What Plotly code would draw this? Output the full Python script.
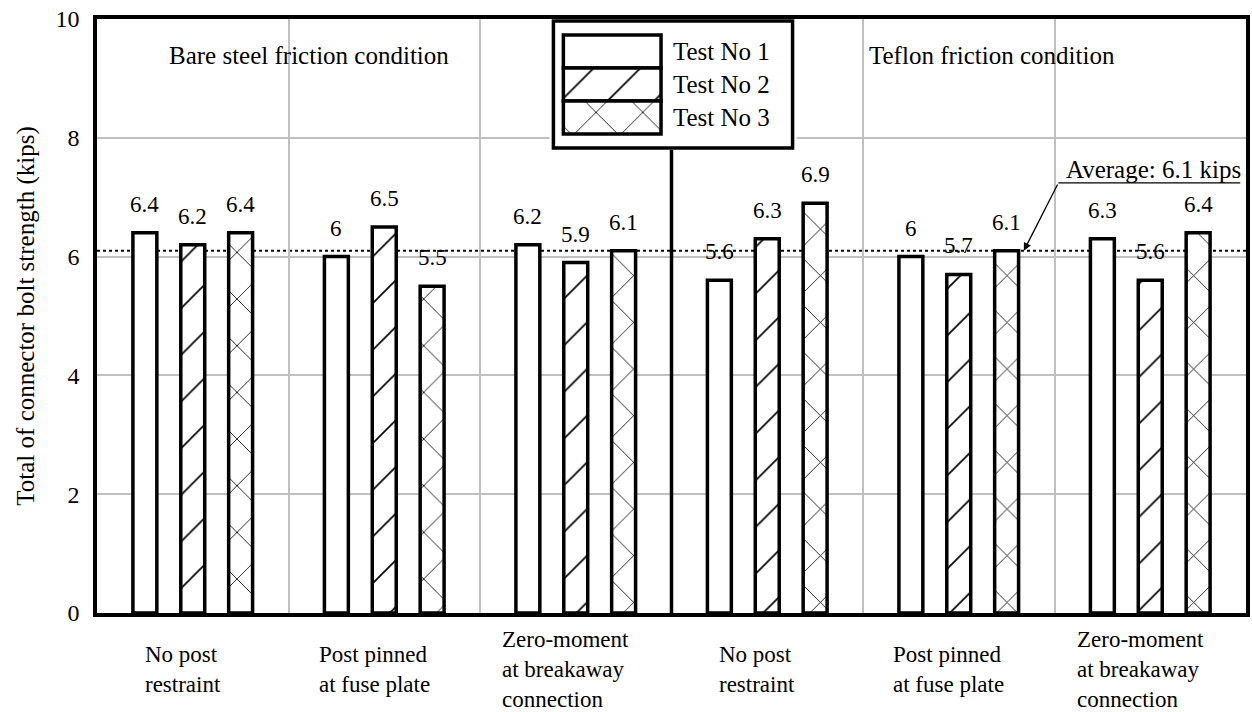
import plotly.graph_objects as go

# ---- data -----------------------------------------------------------------
GROUP_LABELS = [
    "No post<br>restraint",
    "Post pinned<br>at fuse plate",
    "Zero-moment<br>at breakaway<br>connection",
    "No post<br>restraint",
    "Post pinned<br>at fuse plate",
    "Zero-moment<br>at breakaway<br>connection",
]
TEST_NAMES = ["Test No 1", "Test No 2", "Test No 3"]
TEST1 = [6.4, 6.0, 6.2, 5.6, 6.0, 6.3]
TEST2 = [6.2, 6.5, 5.9, 6.3, 5.7, 5.6]
TEST3 = [6.4, 5.5, 6.1, 6.9, 6.1, 6.4]
AVERAGE = 6.1
Y_TICKS = [0, 2, 4, 6, 8, 10]
CONDITIONS = ["Bare steel friction condition", "Teflon friction condition"]

# ---- styling ----------------------------------------------------------------
FONT = "'Liberation Serif', 'Times New Roman', Times, serif"
GRID = "#c0c0c0"
PATTERNS = ["", "/", "x"]
OFFSETS = [-0.25, 0.0, 0.25]
BAR_WIDTH = 0.125
EDGE = 3.5
PAT = dict(size=33, solidity=0.05, fgcolor="black", bgcolor="white",
           fgopacity=1)

series = [TEST1, TEST2, TEST3]
n_groups = len(GROUP_LABELS)

fig = go.Figure()

# divider between the two friction conditions
fig.add_trace(go.Scatter(
    x=[(n_groups - 1) / 2, (n_groups - 1) / 2], y=[Y_TICKS[0], Y_TICKS[-1]],
    mode="lines", line=dict(color="black", width=EDGE),
    hoverinfo="skip", showlegend=False,
))

for name, vals, pat, off in zip(TEST_NAMES, series, PATTERNS, OFFSETS):
    xs = [g + off for g in range(n_groups)]
    fig.add_trace(go.Bar(
        x=xs, y=vals, width=BAR_WIDTH, name=name,
        marker=dict(
            color="white",
            line=dict(color="black", width=EDGE),
            pattern=dict(shape=pat, **PAT),
        ),
        showlegend=False,
    ))
    for x, v in zip(xs, vals):
        fig.add_annotation(
            x=x, y=v, text=f"{v:g}", showarrow=False,
            yanchor="bottom", yshift=14,
            font=dict(family=FONT, size=23, color="black"),
        )

# ---- legend inset -----------------------------------------------------------
LEG_W, LEG_H = 248, 131
fig.add_trace(go.Bar(
    x=[LEG_W - 8], y=[LEG_H / 2], base=[4], width=[LEG_H - 4],
    orientation="h",
    marker=dict(color="white", line=dict(color="black", width=EDGE)),
    xaxis="x2", yaxis="y2", hoverinfo="skip", showlegend=False,
))
ROW_H = 33
for i, (name, pat) in enumerate(zip(TEST_NAMES, PATTERNS)):
    yc = 16 + ROW_H / 2 + i * ROW_H
    fig.add_trace(go.Bar(
        x=[98], y=[yc], base=[14], width=[ROW_H], orientation="h",
        marker=dict(
            color="white",
            line=dict(color="black", width=EDGE),
            pattern=dict(shape=pat, **PAT),
        ),
        xaxis="x2", yaxis="y2", hoverinfo="skip", showlegend=False,
    ))
    fig.add_annotation(
        x=122, y=yc, xref="x2", yref="y2", text=name, showarrow=False,
        xanchor="left", yanchor="middle",
        font=dict(family=FONT, size=25, color="black"),
    )

# average line, drawn beneath the bars
fig.add_shape(
    type="line", xref="x", yref="y", x0=-0.5, x1=n_groups - 0.5,
    y0=AVERAGE, y1=AVERAGE, layer="below",
    line=dict(color="black", width=2, dash="dot"),
)

# callout for the average
fig.add_annotation(
    x=4.547, y=7.24, text=f"Average: {AVERAGE:g} kips", showarrow=False,
    xanchor="left", yanchor="bottom", yshift=-2,
    font=dict(family=FONT, size=25, color="black"),
)
fig.add_shape(
    type="line", xref="x", yref="y", x0=4.52, x1=5.47, y0=7.24, y1=7.24,
    line=dict(color="black", width=1.3),
)
fig.add_annotation(
    x=4.34, y=AVERAGE, ax=4.52, ay=7.24, axref="x", ayref="y",
    text="", showarrow=True, arrowhead=2, arrowsize=1.2, arrowwidth=1.3,
    arrowcolor="black",
)

# category labels under the axis
for g, lab in enumerate(GROUP_LABELS):
    fig.add_annotation(
        x=g, xref="x", y=-0.0943, yref="paper", text=lab, showarrow=False,
        xanchor="center", yanchor="middle", align="left", xshift=-10,
        borderpad=0,
        font=dict(family=FONT, size=23, color="black"),
    )

# condition headings
for xp, txt in zip([0.1847, 0.779], CONDITIONS):
    fig.add_annotation(
        x=xp, y=0.939, xref="paper", yref="paper", text=txt, showarrow=False,
        xanchor="center", yanchor="middle",
        font=dict(family=FONT, size=25, color="black"),
    )

W, H = 1252, 712
ML, MR, MT, MB = 97, 2, 19, 99
PW, PH = W - ML - MR, H - MT - MB

fig.update_layout(
    width=W, height=H,
    margin=dict(l=ML, r=MR, t=MT, b=MB, pad=0),
    paper_bgcolor="white", plot_bgcolor="white",
    showlegend=False, barmode="overlay",
    font=dict(family=FONT, size=24, color="black"),
    xaxis=dict(
        range=[-0.5, n_groups - 0.5], tickvals=list(range(n_groups)),
        showticklabels=False, showgrid=False, zeroline=False,
        showline=True, mirror=True, linecolor="black", linewidth=EDGE,
        ticks="",
        minor=dict(tickvals=[0.5, 1.5, 3.5, 4.5], showgrid=True,
                   gridcolor=GRID, gridwidth=2, ticks=""),
    ),
    yaxis=dict(
        range=[Y_TICKS[0], Y_TICKS[-1]], tickvals=Y_TICKS,
        showgrid=True, gridcolor=GRID, gridwidth=2, zeroline=False,
        showline=True, mirror=True, linecolor="black", linewidth=EDGE,
        ticks="outside", ticklen=9, tickcolor="rgba(0,0,0,0)",
        tickfont=dict(family=FONT, size=24, color="black"),
        title=dict(text="Total of connector bolt strength (kips)",
                   font=dict(family=FONT, size=25, color="black"),
                   standoff=15),
    ),
    xaxis2=dict(
        domain=[(551 - ML) / PW, (551 + LEG_W - ML) / PW],
        range=[0, LEG_W], visible=False, anchor="y2", fixedrange=True,
    ),
    yaxis2=dict(
        domain=[1 - LEG_H / PH, 1.0],
        range=[LEG_H, 0], visible=False, anchor="x2", fixedrange=True,
    ),
)

fig.write_html("out.html")
